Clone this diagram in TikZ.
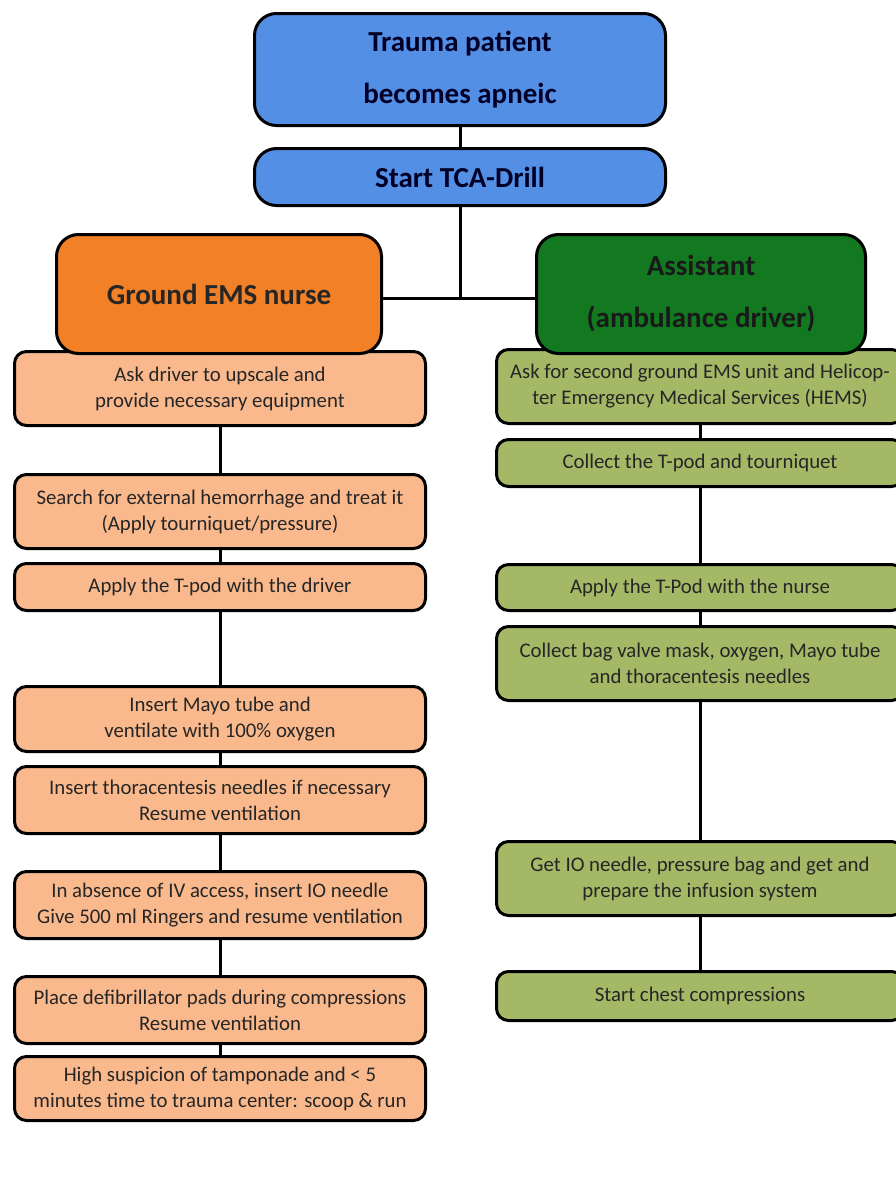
\documentclass[tikz,border=0pt]{standalone}
\usepackage{fontspec}
\setmainfont{Carlito}
\usetikzlibrary{positioning}

\definecolor{drillblue}{RGB}{84,143,230}
\definecolor{nurseorange}{RGB}{241,128,38}
\definecolor{nursepeach}{RGB}{250,185,140}
\definecolor{assistgreen}{RGB}{19,121,32}
\definecolor{assistolive}{RGB}{164,184,102}

\tikzset{
  box/.style={draw=black, line width=3pt, rounded corners=12pt, align=center, inner sep=2pt},
  head/.style={box, rounded corners=22pt, font=\bfseries\fontsize{29}{52}\selectfont},
  stepbox/.style={box, font=\fontsize{20.8}{26}\selectfont, text=black!85},
  nursestep/.style={stepbox, fill=nursepeach, minimum width=411pt},
  assiststep/.style={stepbox, fill=assistolive, minimum width=407pt},
  link/.style={line width=3pt}
}

\begin{document}
\begin{tikzpicture}[x=1pt,y=-1pt]
  \path[use as bounding box, clip] (0,0) rectangle (896,1183);
  \fill[white] (0,0) rectangle (896,1183);

  % top of the drill
  \node[head, fill=drillblue, text=black!85!blue, minimum width=411pt, minimum height=112pt] (trauma) at (460,69.5) {Trauma patient\\becomes apneic};
  \node[head, fill=drillblue, text=black!85!blue, minimum width=411pt, minimum height=57pt] (drill) at (460,177) {Start TCA-Drill};

  % nurse column
  \node[nursestep, minimum height=74pt] (n1) at (220,388.5) {Ask driver to upscale and\\provide necessary equipment};
  \node[nursestep, minimum height=74pt] (n2) at (220,511.5) {Search for external hemorrhage and treat it\\(Apply tourniquet/pressure)};
  \node[nursestep, minimum height=47pt] (n3) at (220,587) {Apply the T-pod with the driver};
  \node[nursestep, minimum height=65pt] (n4) at (220,719) {Insert Mayo tube and\\ventilate with 100\% oxygen};
  \node[nursestep, minimum height=67pt] (n5) at (220,800) {Insert thoracentesis needles if necessary\\Resume ventilation};
  \node[nursestep, minimum height=67pt] (n6) at (220,905) {In absence of IV access, insert IO needle\\Give 500 ml Ringers and resume ventilation};
  \node[nursestep, minimum height=67pt] (n7) at (220,1010) {Place defibrillator pads during compressions\\Resume ventilation};
  \node[nursestep, minimum height=64pt] (n8) at (220,1088.5) {High suspicion of tamponade and < 5\\minutes time to trauma center: scoop \& run};
  \node[head, fill=nurseorange, text=black!85, minimum width=325pt, minimum height=119pt] (nurse) at (219,294) {Ground EMS nurse};

  % assistant column
  \node[assiststep, minimum height=74pt] (a1) at (700,386.5) {Ask for second ground EMS unit and Helicop-\\ter Emergency Medical Services (HEMS)};
  \node[assiststep, minimum height=47pt] (a2) at (700,463) {Collect the T-pod and tourniquet};
  \node[assiststep, minimum height=46pt] (a3) at (700,587.5) {Apply the T-Pod with the nurse};
  \node[assiststep, minimum height=74pt] (a4) at (700,663.5) {Collect bag valve mask, oxygen, Mayo tube\\and thoracentesis needles};
  \node[assiststep, minimum height=74pt] (a5) at (700,878.5) {Get IO needle, pressure bag and get and\\prepare the infusion system};
  \node[assiststep, minimum height=49pt] (a6) at (700,996) {Start chest compressions};
  \node[head, fill=assistgreen, text=black!90, minimum width=329pt, minimum height=119pt] (assist) at (701,294) {Assistant\\(ambulance driver)};

  % connectors
  \coordinate (hub) at (460,298);
  \draw[link] (trauma) -- (drill);
  \draw[link] (drill.south) -- (hub);
  \draw[link] (nurse.east |- hub) -- (hub) -- (assist.west |- hub);
  \foreach \a/\b in {n1/n2, n2/n3, n3/n4, n4/n5, n5/n6, n6/n7, n7/n8,
                     a1/a2, a2/a3, a3/a4, a4/a5, a5/a6}
    \draw[link] (\a.south) -- (\b.north);
\end{tikzpicture}
\end{document}
